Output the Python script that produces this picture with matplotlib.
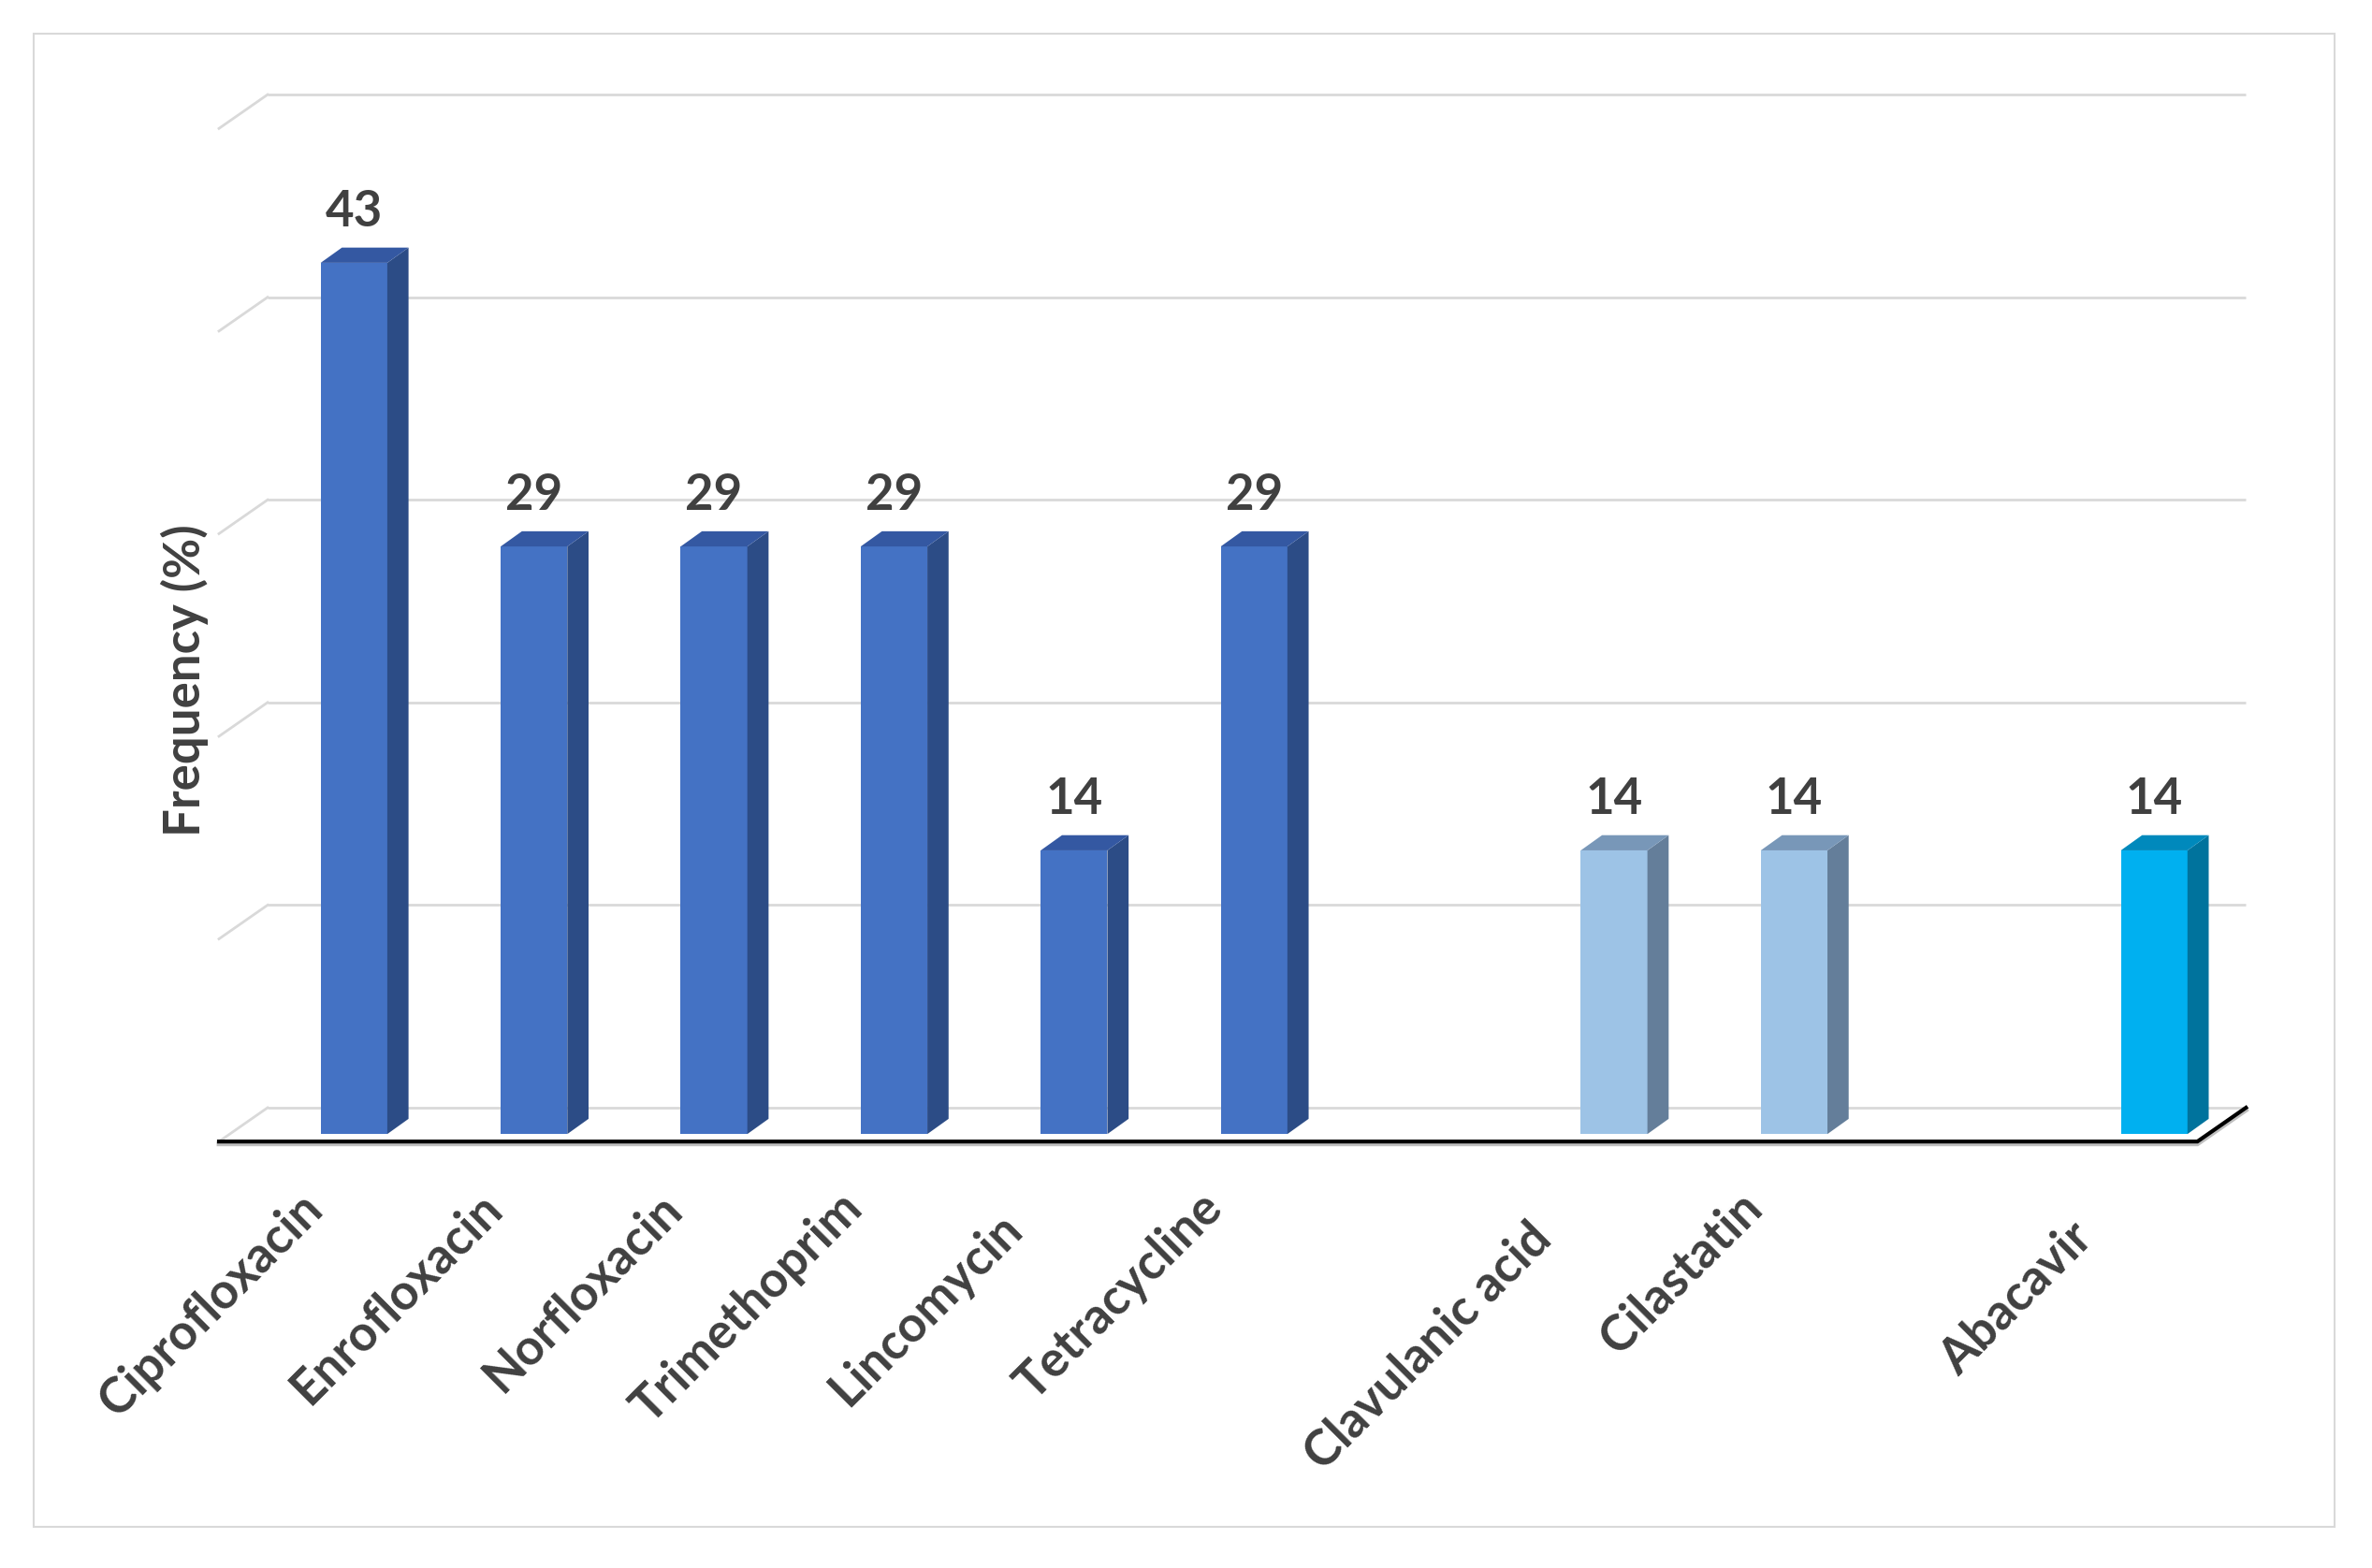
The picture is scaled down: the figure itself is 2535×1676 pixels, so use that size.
import numpy as np
import matplotlib
matplotlib.use("Agg")
import matplotlib.pyplot as plt
from matplotlib.patches import Polygon, Rectangle
from matplotlib.transforms import offset_copy

# ---- data ----
categories = ["Ciprofloxacin", "Enrofloxacin", "Norfloxacin", "Trimethoprim",
              "Lincomycin", "Tetracycline", "", "Clavulanic acid", "Cilastatin",
              "", "Abacavir"]
values = [43, 29, 29, 29, 14, 29, np.nan, 14, 14, np.nan, 14]
groups = ["A", "A", "A", "A", "A", "A", "", "B", "B", "", "C"]
y_gridlines = [0, 10, 20, 30, 40, 50]
y_label = "Frequency (%)"

# ---- style ----
front_col = {"A": "#4472C4", "B": "#9DC3E6", "C": "#00B0F0"}
side_col = {"A": "#2C4C86", "B": "#647E9A", "C": "#00739D"}
top_col = {"A": "#3458A2", "B": "#7897B8", "C": "#0089BC"}
txt_col = "#404040"
grid_col = "#D9D9D9"
# extra down-left shift of some rotated labels (points), as in the reference
label_shift = {"Lincomycin": 22, "Clavulanic acid": 33, "Abacavir": 32}

W, H = 2535, 1676
fig = plt.figure(figsize=(W / 100, H / 100), dpi=100)
ax = fig.add_axes([0, 0, 1, 1])
# mapping (in 1568-wide reference): slot i centre at 234 + 119 i px, value 0 at 750 px, 13.4 px/unit
sx, sy = 119.0, 13.4
ax.set_xlim((0 - 234) / sx, (1568 - 234) / sx)
ax.set_ylim((750 - 1037) / sy, (750 - 0) / sy)
ax.axis("off")

plt.rcParams["font.family"] = ["Lato", "DejaVu Sans"]

# border
fig.patches.append(Rectangle((22 / 1568, 1 - 1010 / 1037), (1543 - 22) / 1568, (1010 - 22) / 1037,
                             transform=fig.transFigure, fill=False, edgecolor="#D9D9D9", lw=1.5))

# floor / back wall geometry (data units)
n = len(categories)
fx0, fx1 = -0.75, n - 1 + 0.24          # front floor edge
fdx, fdy = 0.27, 1.67                   # floor depth offset
ffront = -0.37                          # front floor edge level
wall_y0 = ffront + fdy

for g in y_gridlines:
    yb = wall_y0 + g
    ax.plot([fx0 + fdx, fx1 + fdx], [yb, yb], color=grid_col, lw=2.0, zorder=1,
            solid_capstyle="butt")
    ax.plot([fx0, fx0 + fdx], [yb - fdy, yb], color=grid_col, lw=2.0, zorder=1)

# floor front edge (axis line) with shadow
ax.plot([fx0, fx1, fx1 + fdx], [ffront - 0.12, ffront - 0.12, ffront + fdy - 0.12],
        color="#BFBFBF", lw=3.5, zorder=4, solid_joinstyle="miter")
ax.plot([fx0, fx1, fx1 + fdx], [ffront, ffront, ffront + fdy],
        color="black", lw=3.0, zorder=5, solid_joinstyle="miter")

# bars
x = np.arange(n)
bw = 0.37
ddx, ddy = 0.118, 0.75
for xi, v, g in zip(x, values, groups):
    if np.isnan(v):
        continue
    ax.bar(xi, v, width=bw, color=front_col[g], zorder=3, linewidth=0)
    r = xi + bw / 2
    l = xi - bw / 2
    ax.add_patch(Polygon([(r, 0), (r + ddx, ddy), (r + ddx, v + ddy), (r, v)],
                         closed=True, facecolor=side_col[g], edgecolor="none", zorder=3))
    ax.add_patch(Polygon([(l, v), (r, v), (r + ddx, v + ddy), (l + ddx, v + ddy)],
                         closed=True, facecolor=top_col[g], edgecolor="none", zorder=3))
    ax.text(xi, v + 2.5, f"{v:.0f}", ha="center", va="center", fontsize=38,
            fontweight="bold", color=txt_col, zorder=6)

# category labels
for xi, c in zip(x, categories):
    if not c:
        continue
    d = label_shift.get(c, 0) / np.sqrt(2)
    tr = offset_copy(ax.transData, fig=fig, x=-d, y=-d, units="points")
    ax.text(xi - 0.22, -3.3, c, rotation=45, rotation_mode="anchor", ha="right",
            va="center", fontsize=38, fontweight="bold", color=txt_col, transform=tr)

fig.text(122 / 1568, 1 - 450 / 1037, y_label, rotation=90, ha="center", va="center",
         fontsize=38, fontweight="bold", color=txt_col)

fig.savefig("out.png", dpi=100, facecolor="white")
